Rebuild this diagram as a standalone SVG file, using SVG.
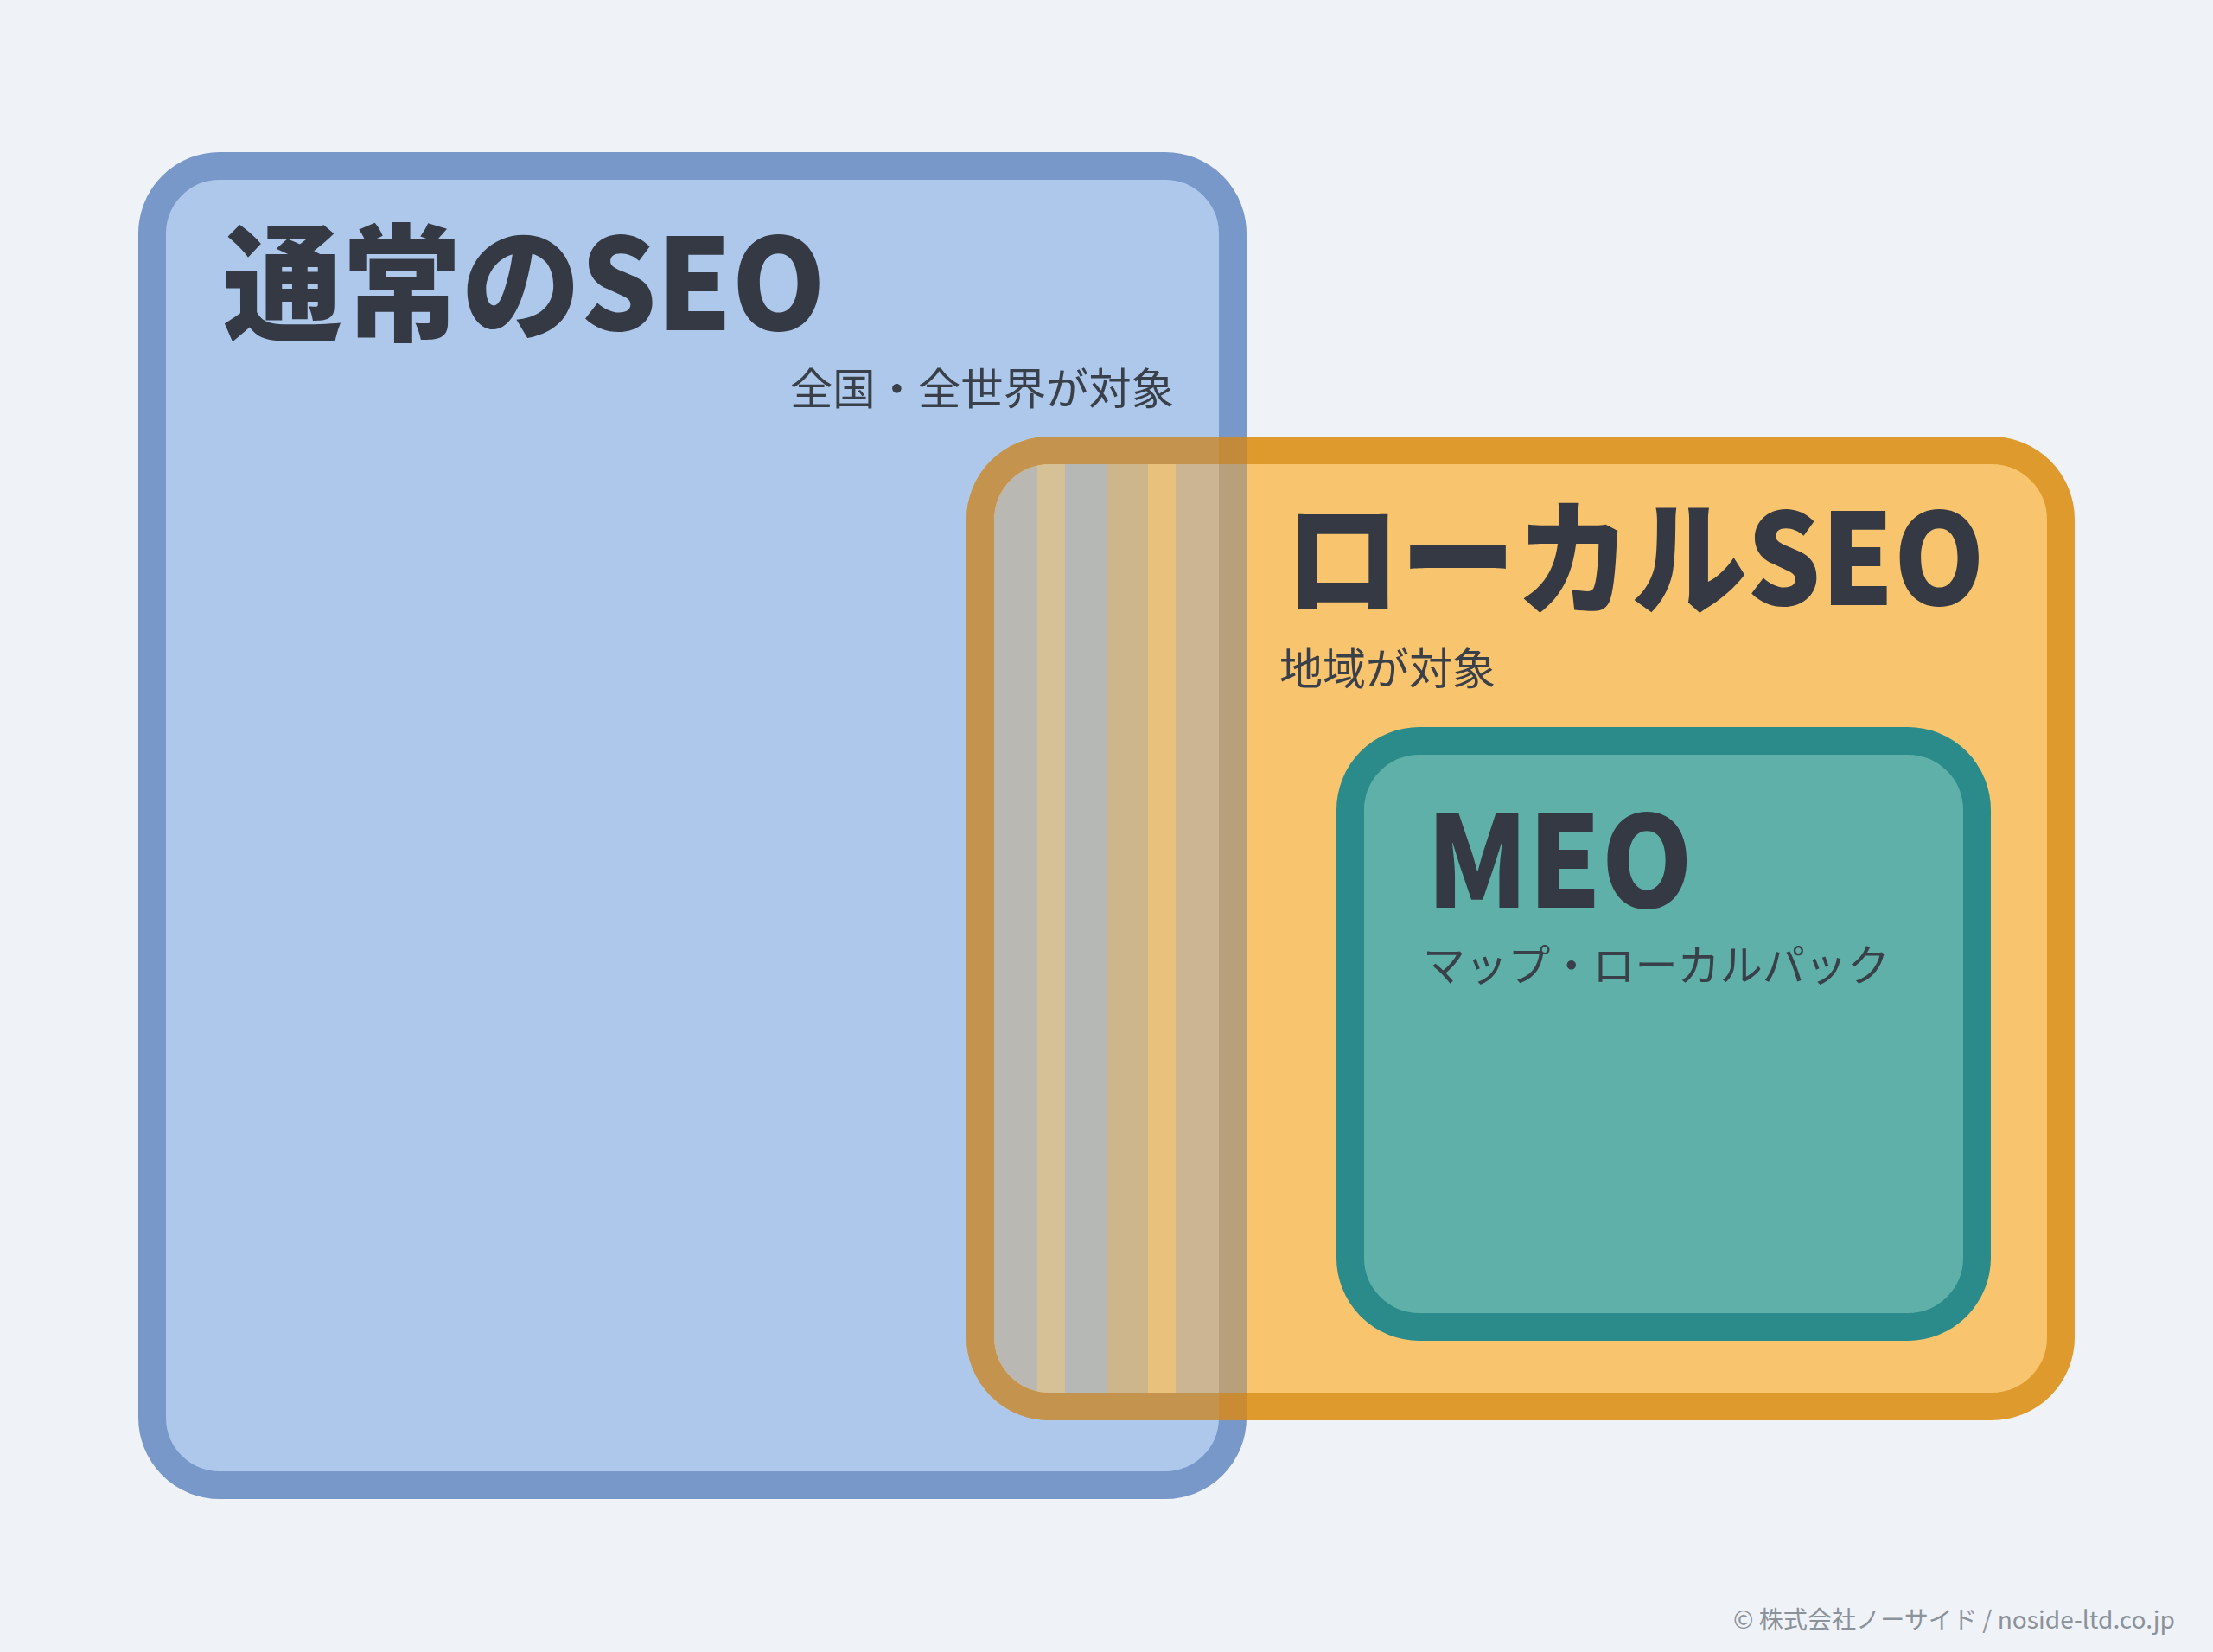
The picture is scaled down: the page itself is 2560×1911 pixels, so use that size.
<svg xmlns="http://www.w3.org/2000/svg" width="2560" height="1911" viewBox="0 0 2560 1911">
<style>
.title{font-family:"Noto Sans CJK JP","Noto Sans",sans-serif;font-weight:900;font-size:146px;fill:#343943}
.sub{font-family:"Noto Sans CJK JP","Noto Sans",sans-serif;font-weight:400;font-size:50px;fill:#3a404a}
.copy{font-family:"Noto Sans CJK JP","Noto Sans",sans-serif;font-weight:400;font-size:28px;fill:#8c929a}
.box{stroke-width:32}
</style>
<defs>
<clipPath id="blueClip"><rect x="160" y="176" width="1282" height="1558" rx="94"/></clipPath>
<clipPath id="orangeInner"><rect x="1150" y="537" width="1218" height="1074" rx="64"/></clipPath>
</defs>
<rect x="0" y="0" width="2560" height="1911" fill="#eff3f8"/>
<g id="node-seo">
<rect class="box" x="176" y="192" width="1250" height="1526" rx="78" fill="#adc8ea" stroke="#7898c9"/>
<text class="title" x="258" y="382" textLength="697" lengthAdjust="spacingAndGlyphs">通常のSEO</text>
<text class="sub" x="1358" y="468" text-anchor="end" textLength="444" lengthAdjust="spacingAndGlyphs">全国・全世界が対象</text>
</g>
<g id="node-local">
<rect class="box" x="1134" y="521" width="1250" height="1106" rx="80" fill="#f8c46e" stroke="#df9a2e"/>
<g id="overlap" clip-path="url(#blueClip)">
<rect class="box" x="1134" y="521" width="1250" height="1106" rx="80" fill="none" stroke="#c4944f"/>
<rect x="1410" y="505" width="32" height="32" fill="#c38a3c"/>
<rect x="1410" y="1611" width="32" height="32" fill="#c98b33"/>
<g clip-path="url(#orangeInner)">
<rect x="1150" y="537" width="50" height="1074" fill="#b9b8b2"/>
<rect x="1200" y="537" width="32" height="1074" fill="#d6c095"/>
<rect x="1232" y="537" width="48" height="1074" fill="#b6b8b5"/>
<rect x="1280" y="537" width="48" height="1074" fill="#cdb58c"/>
<rect x="1328" y="537" width="32" height="1074" fill="#e8c27c"/>
<rect x="1360" y="537" width="50" height="1074" fill="#cbb592"/>
<rect x="1410" y="537" width="32" height="1074" fill="#b7a07b"/>
</g>
</g>
<text class="title" x="1486" y="700" textLength="810" lengthAdjust="spacingAndGlyphs">ローカルSEO</text>
<text class="sub" x="1480" y="792">地域が対象</text>
</g>
<g id="node-meo">
<rect class="box" x="1562" y="857" width="725" height="678" rx="80" fill="#5fb0a8" stroke="#2b8a8a"/>
<text class="title" x="1650" y="1050" textLength="308" lengthAdjust="spacingAndGlyphs">MEO</text>
<text class="sub" x="1646" y="1135" textLength="540" lengthAdjust="spacingAndGlyphs">マップ・ローカルパック</text>
</g>
<g id="connectors"/>
<text class="copy" x="2516" y="1884" text-anchor="end" textLength="511" lengthAdjust="spacingAndGlyphs">© 株式会社ノーサイド / noside-ltd.co.jp</text>
</svg>
